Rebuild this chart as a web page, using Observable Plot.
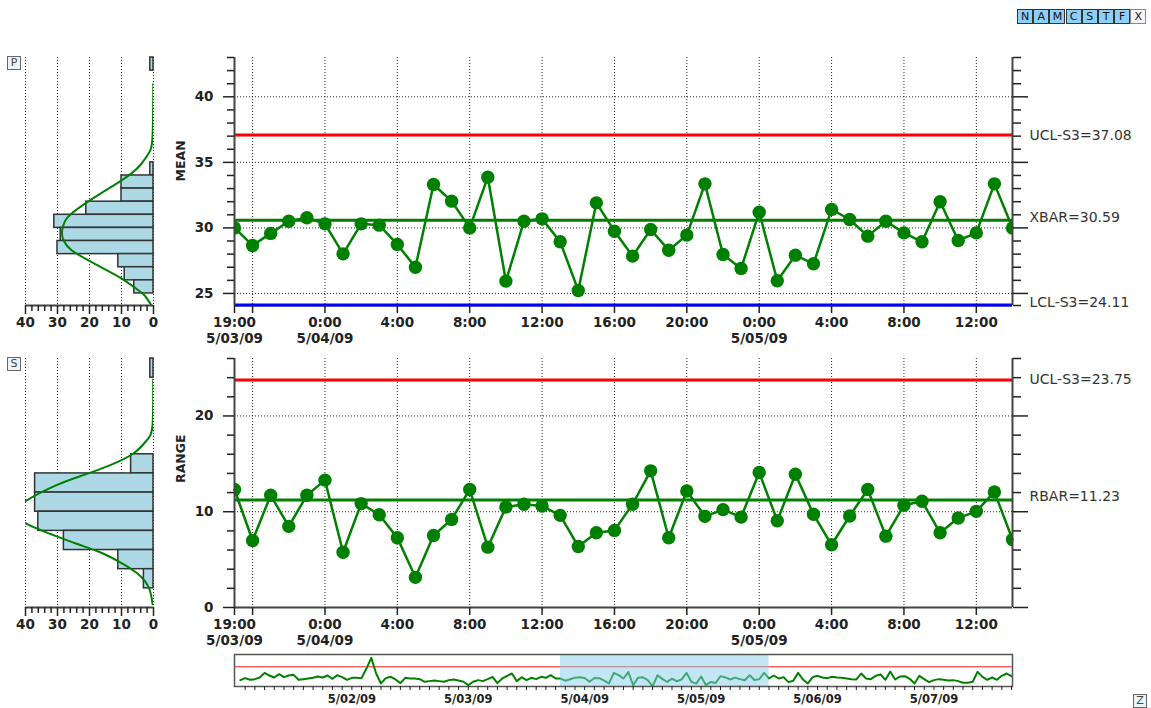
<!DOCTYPE html>
<html>
<head>
<meta charset="utf-8">
<script src="https://cdn.jsdelivr.net/npm/d3@7"></script>
<script src="https://cdn.jsdelivr.net/npm/@observablehq/plot@0.6"></script>
<style>
  body { margin: 0; background: #fff; font-family: "DejaVu Sans", sans-serif; }
  #root { position: relative; width: 1151px; height: 708px; overflow: hidden; background: #fff; }
  .btn { position: absolute; height: 13px; border: 1px solid #333; background: #8dcff5;
         font: 11px "DejaVu Sans", sans-serif; text-align: center; line-height: 13px; color: #112; }
  .sbtn { position: absolute; width: 12px; height: 12px; border: 1px solid #666; background: #eaf4fb;
         font: 11px "DejaVu Sans", sans-serif; text-align: center; line-height: 12px; color: #444; }
</style>
</head>
<body>
<div id="root"></div>
<script>
// ---------------- data ----------------
const meanValues = [30.0, 28.66, 29.58, 30.51, 30.77, 30.31, 28.02, 30.31, 30.21, 28.74,
  27.0, 33.31, 32.04, 30.0, 33.87, 25.94, 30.51, 30.69, 28.94, 25.23,
  31.91, 29.75, 27.85, 29.88, 28.30, 29.45, 33.36, 27.97, 26.91, 31.20,
  25.97, 27.92, 27.26, 31.41, 30.64, 29.37, 30.51, 29.62, 28.94, 31.99,
  29.04, 29.62, 33.36, 30.0];
const rangeValues = [12.32, 7.0, 11.72, 8.47, 11.72, 13.3, 5.77, 10.85, 9.68, 7.28,
  3.15, 7.52, 9.2, 12.32, 6.3, 10.49, 10.78, 10.6, 9.62, 6.37,
  7.8, 8.05, 10.78, 14.27, 7.28, 12.17, 9.52, 10.22, 9.44, 14.1,
  9.06, 13.92, 9.73, 6.55, 9.55, 12.32, 7.45, 10.67, 11.09, 7.8,
  9.34, 10.04, 12.07, 7.1];
// navigator (overview) values before and after the highlighted window
const navBefore = [29.0, 30.2, 29.2, 29.6, 30.6, 33.4, 31.8, 30.6, 32.6, 30.8,
  31.8, 32.2, 29.2, 29.6, 30.0, 30.4, 31.2, 30.6, 31.8, 29.8,
  32.0, 30.8, 29.2, 30.4, 30.4, 30.2, 36.0, 42.5, 33.0, 27.0,
  30.2, 31.0, 29.4, 27.2, 30.4, 30.0, 30.0, 29.6, 28.0, 28.4,
  28.8, 28.4, 28.0, 29.0, 29.4, 28.8, 28.0, 26.0, 28.0, 29.0,
  28.4, 29.6, 31.0, 27.2, 30.0, 31.6, 33.0, 28.4, 30.8, 29.0,
  30.4, 29.6, 31.0, 30.4, 32.0, 30.0];
const navAfter = [31.8, 30.0, 30.8, 27.8, 28.6, 33.4, 29.4, 27.0, 30.8, 31.6,
  30.6, 30.2, 31.0, 30.6, 30.4, 30.0, 29.6, 29.4, 33.0, 30.0,
  29.6, 31.6, 32.4, 29.2, 34.2, 29.4, 31.2, 31.4, 29.8, 27.0,
  31.6, 29.6, 27.8, 29.0, 29.6, 29.2, 28.8, 29.0, 28.4, 27.4,
  27.4, 28.0, 34.0, 31.0, 29.2, 30.6, 29.2, 31.6, 33.0, 31.4];

const UCL_MEAN = 37.08, XBAR = 30.59, LCL_MEAN = 24.11;
const UCL_RANGE = 23.75, RBAR = 11.23;

// histograms (bin lower edge, counts)
const meanBinLo = [42, 34, 33, 32, 31, 30, 29, 28, 27, 26, 25];
const meanBinCount = [1, 1, 10, 10, 21, 31, 29, 30, 11, 9, 6];
const meanBinWidth = 1;
const rangeBinLo = [24, 14, 12, 10, 8, 6, 4, 2];
const rangeBinCount = [1, 7, 37, 37, 36, 28, 11, 3];
const rangeBinWidth = 2;
// fitted normal curves (count, value)
const meanCurveCount = [0.05, 0.3, 1.5, 4.1, 7.2, 11.4, 16.7, 21.4, 25.6, 27.7, 28.6, 28.0, 25.6, 20.9, 15.6, 10.4, 6.2, 3.0, 0.7];
const meanCurveValue = [41.0, 37.0, 35.7, 34.8, 34.1, 33.4, 32.6, 31.85, 31.1, 30.5, 29.7, 29.0, 28.3, 27.6, 26.9, 26.2, 25.5, 24.9, 24.1];
const rangeCurveCount = [0.1, 0.3, 2.0, 6.2, 13.5, 21.9, 30.3, 40, 43, 40, 32.4, 24, 16.7, 10.4, 5.1, 1.5, 0.3];
const rangeCurveValue = [23.8, 19.07, 17.5, 16.1, 14.87, 13.82, 12.77, 11.1, 9.95, 8.8, 7.7, 6.65, 5.77, 4.72, 3.57, 2.1, 0.36];

// axis ticks and labels (hours counted from 19:00 5/03/09)
const gridHours = [1, 5, 9, 13, 17, 21, 25, 29, 33, 37, 41];
const labelHours = [0, 5, 9, 13, 17, 21, 25, 29, 33, 37, 41];
const timeLabels = ["19:00", "0:00", "4:00", "8:00", "12:00", "16:00", "20:00", "0:00", "4:00", "8:00", "12:00"];
const dateLabels = ["5/03/09", "5/04/09", "", "", "", "", "", "5/05/09", "", "", ""];
const meanMajor = [25, 30, 35, 40];
const rangeMajor = [0, 10, 20];
const histTicks = [40, 30, 20, 10, 0];
const navDayHours = [-43, -19, 5, 29, 53, 77];
const navDayLabels = ["5/02/09", "5/03/09", "5/04/09", "5/05/09", "5/06/09", "5/07/09"];
const buttons = ["N", "A", "M", "C", "S", "T", "F", "X"];

// ---------------- derived tables ----------------
const series = meanValues.map((m, i) => ({h: i, mean: m, range: rangeValues[i]}));
const navValues = [...navBefore, ...meanValues, ...navAfter];
const navData = navValues.map((v, i) => ({h: i - navBefore.length, v}));
const meanMinor = d3.range(25, 44).filter(d => d % 5 !== 0);
const rangeMinor = d3.range(2, 27, 2).filter(d => d % 10 !== 0);
const histMinor = d3.range(2, 40, 2).filter(d => d % 10 !== 0);
const navMinor = d3.range(-65, 94, 2);

const root = document.getElementById("root");
const style = {fontFamily: "'DejaVu Sans', sans-serif", background: "transparent", color: "#222", overflow: "visible"};
function place(el, left, top) {
  el.style.position = "absolute";
  el.style.left = left + "px";
  el.style.top = top + "px";
  root.appendChild(el);
}
const dotted = {stroke: "#000", strokeOpacity: 0.85, strokeDasharray: "1,2"};

function controlChart({key, yDomain, major, minor, rightMinor, marginTop, marginBottom, limits, yLabel}) {
  return Plot.plot({
    width: 991, height: 300, marginLeft: 74, marginRight: 139, marginTop, marginBottom,
    x: {domain: [0, 43], axis: null, label: null},
    y: {domain: yDomain, axis: null, label: null},
    style,
    marks: [
      Plot.gridY(major.filter(d => d > yDomain[0]), dotted),
      Plot.gridX(gridHours, dotted),
      Plot.ruleY([yDomain[0]], {stroke: "#444", strokeWidth: 2}),
      ...limits.map(l => Plot.ruleY([l.value], {stroke: l.color, strokeWidth: 3})),
      Plot.line(series, {x: "h", y: key, stroke: "#008000", strokeWidth: 2.5}),
      Plot.dot(series, {x: "h", y: key, r: 6.7, fill: "#008000", clip: true}),
      Plot.ruleX([0, 43], {stroke: "#444", strokeWidth: 2}),
      Plot.axisY(minor, {anchor: "left", tickSize: 7, strokeWidth: 1.5, tickFormat: () => ""}),
      Plot.axisY(major, {anchor: "left", tickSize: 11, tickPadding: 10, strokeWidth: 1.5, fontSize: 13.5, fontWeight: "bold"}),
      Plot.axisY(rightMinor, {anchor: "right", tickSize: 8, strokeWidth: 1.5, tickFormat: () => ""}),
      Plot.axisY(major, {anchor: "right", tickSize: 15, strokeWidth: 1.5, tickFormat: () => ""}),
      Plot.axisX([0, ...gridHours], {anchor: "bottom", tickSize: 8, strokeWidth: 1.5, tickFormat: () => ""}),
      Plot.text(labelHours, {x: d => d, text: (d, i) => timeLabels[i], frameAnchor: "bottom", lineAnchor: "top", dy: 12, fontSize: 13.5, fontWeight: "bold"}),
      Plot.text(labelHours, {x: d => d, text: (d, i) => dateLabels[i], frameAnchor: "bottom", lineAnchor: "top", dy: 28, fontSize: 13.5, fontWeight: "bold"}),
      Plot.text([yLabel], {frameAnchor: "left", rotate: -90, dx: -54, fontSize: 12.5, fontWeight: "bold"}),
      ...limits.map(l => Plot.text([l.label], {x: 43, y: l.value, dx: 17, dy: l.dy, textAnchor: "start", fontSize: 14, fill: "#333"}))
    ]
  });
}

function histPanel({lo, counts, bw, curveCount, curveValue, yDomain, marginTop, marginBottom}) {
  const bins = lo.map((l, i) => ({y1: l, y2: l + bw, c: counts[i]}));
  const curve = curveCount.map((c, i) => ({c, v: curveValue[i]}));
  return Plot.plot({
    width: 160, height: 300, marginLeft: 25, marginRight: 7, marginTop, marginBottom,
    x: {domain: [40, 0], axis: null, label: null},
    y: {domain: yDomain, axis: null, label: null},
    style,
    marks: [
      Plot.gridX(histTicks, dotted),
      Plot.rect(bins, {y1: "y1", y2: "y2", x1: 0, x2: "c", fill: "#add8e6", stroke: "#333", strokeWidth: 1.5}),
      Plot.line(curve, {x: "c", y: "v", stroke: "#008000", strokeWidth: 2, curve: "natural", clip: true}),
      Plot.ruleY([yDomain[0]], {stroke: "#444", strokeWidth: 2}),
      Plot.axisX(histMinor, {anchor: "bottom", tickSize: 6, strokeWidth: 1.5, tickFormat: () => ""}),
      Plot.axisX(histTicks, {anchor: "bottom", tickSize: 9, tickPadding: 3, strokeWidth: 1.5, fontSize: 13.5, fontWeight: "bold"})
    ]
  });
}

// mean chart + histogram
place(histPanel({lo: meanBinLo, counts: meanBinCount, bw: meanBinWidth, curveCount: meanCurveCount,
  curveValue: meanCurveValue, yDomain: [24.08, 43], marginTop: 7, marginBottom: 45}), 0, 50);
place(controlChart({key: "mean", yDomain: [24.08, 43], major: meanMajor, minor: meanMinor,
  rightMinor: [24.08, ...meanMinor], marginTop: 7, marginBottom: 45, yLabel: "MEAN",
  limits: [
    {value: UCL_MEAN, color: "#ff0000", label: "UCL-S3=" + UCL_MEAN.toFixed(2), dy: 0},
    {value: XBAR, color: "#008000", label: "XBAR=" + XBAR.toFixed(2), dy: -3},
    {value: LCL_MEAN, color: "#0000ff", label: "LCL-S3=" + LCL_MEAN.toFixed(2), dy: -3}
  ]}), 160, 50);

// range chart + histogram
place(histPanel({lo: rangeBinLo, counts: rangeBinCount, bw: rangeBinWidth, curveCount: rangeCurveCount,
  curveValue: rangeCurveValue, yDomain: [0, 26], marginTop: 8, marginBottom: 43}), 0, 350);
place(controlChart({key: "range", yDomain: [0, 26], major: rangeMajor, minor: rangeMinor,
  rightMinor: rangeMinor, marginTop: 8, marginBottom: 43, yLabel: "RANGE",
  limits: [
    {value: UCL_RANGE, color: "#ff0000", label: "UCL-S3=" + UCL_RANGE.toFixed(2), dy: -1},
    {value: RBAR, color: "#008000", label: "RBAR=" + RBAR.toFixed(2), dy: -3}
  ]}), 160, 350);

// navigator
const navDomainY = [25.15, 44.5];
place(Plot.plot({
  width: 840, height: 63, marginLeft: 34, marginRight: 28, marginTop: 9, marginBottom: 22,
  x: {domain: [-67.2, 93.2], axis: null, label: null},
  y: {domain: navDomainY, axis: null, label: null},
  style,
  marks: [
    Plot.ruleY([UCL_MEAN], {stroke: "#ff2020", strokeWidth: 1}),
    Plot.line(navData, {x: "h", y: "v", stroke: "#008000", strokeWidth: 2}),
    Plot.rect([{x1: 0, x2: meanValues.length - 1}], {x1: "x1", x2: "x2", y1: navDomainY[0], y2: navDomainY[1], fill: "#87ceeb", fillOpacity: 0.5}),
    Plot.frame({stroke: "#555", strokeWidth: 1.5}),
    Plot.axisX(navMinor, {anchor: "bottom", tickSize: 4, tickFormat: () => ""}),
    Plot.text(navDayHours, {x: d => d, text: (d, i) => navDayLabels[i], frameAnchor: "bottom", lineAnchor: "top", dy: 8, fontSize: 11.5, fontWeight: "bold"})
  ]
}), 200, 645);

// toolbar buttons
buttons.forEach((b, i) => {
  const d = document.createElement("div");
  d.className = "btn";
  d.textContent = b;
  d.style.width = "14px";
  if (b === "X") { d.style.background = "#f4f4f4"; d.style.borderColor = "#888"; }
  place(d, 1017 + i * 16.2, 9);
});
[["P", 7, 56], ["S", 7, 357], ["Z", 1133, 694]].forEach(([t, x, y]) => {
  const d = document.createElement("div");
  d.className = "sbtn";
  d.textContent = t;
  place(d, x, y);
});
</script>
</body>
</html>
